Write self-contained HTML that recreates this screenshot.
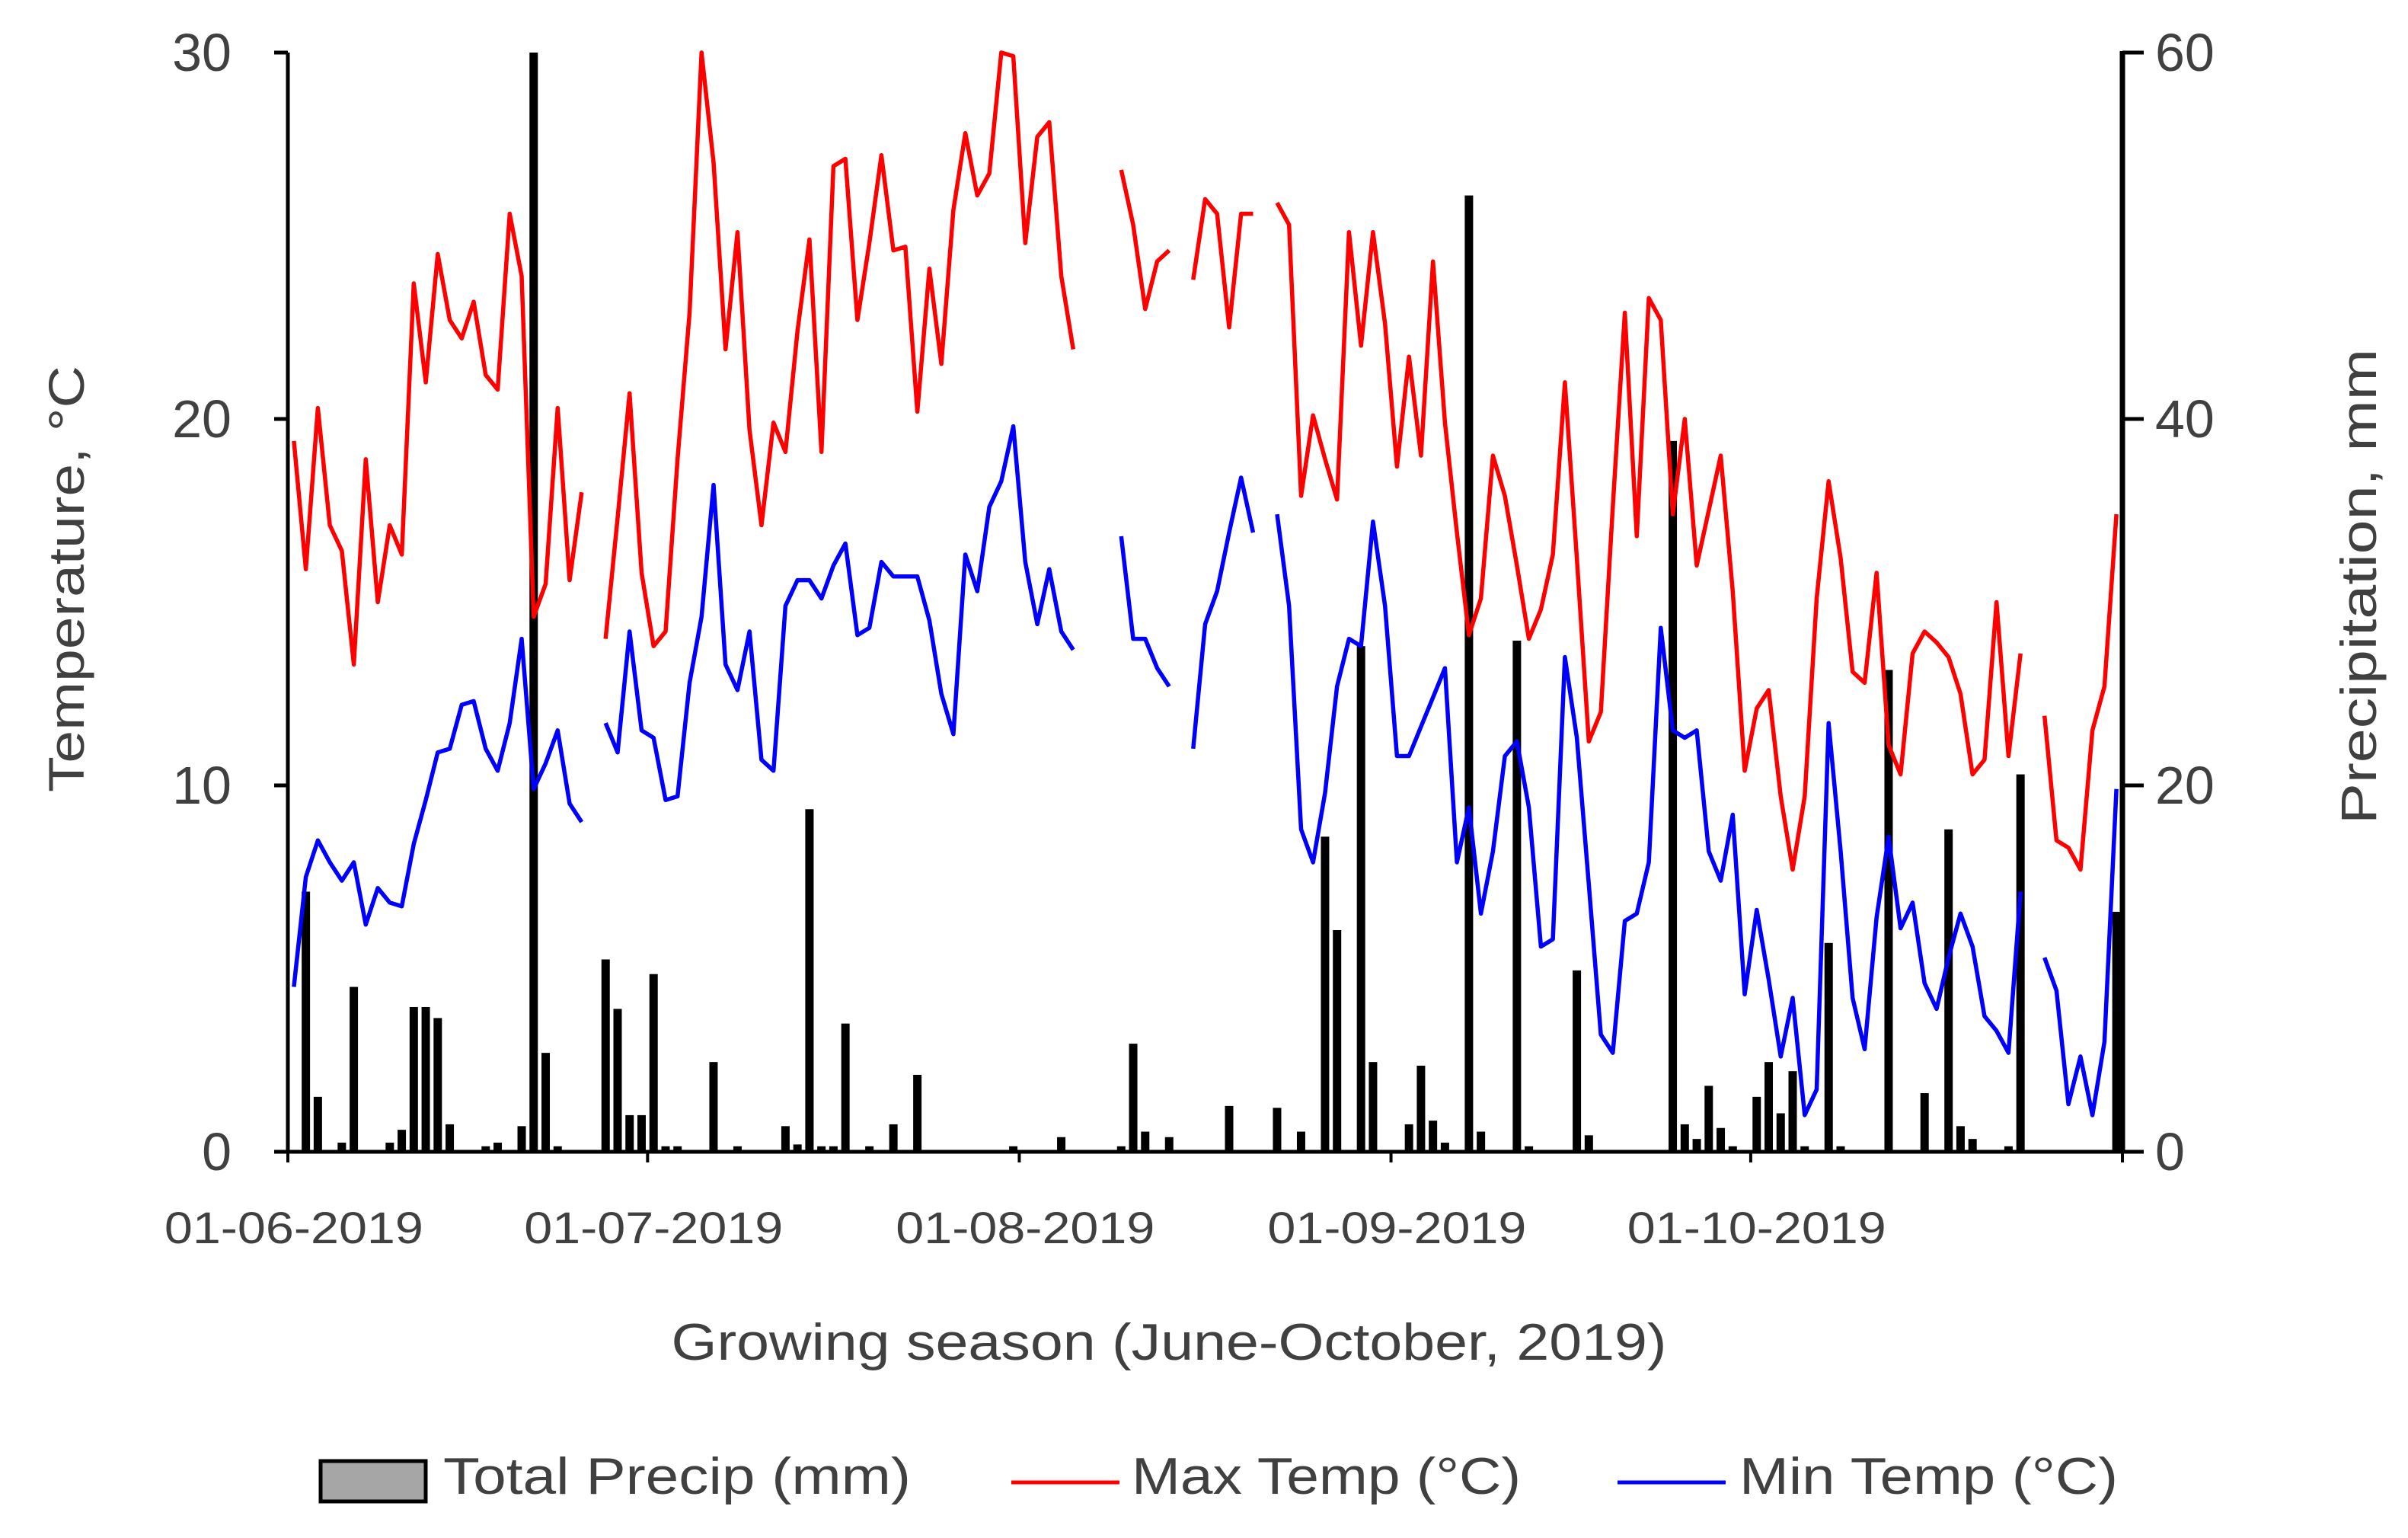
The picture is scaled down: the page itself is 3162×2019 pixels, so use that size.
<!DOCTYPE html>
<html><head><meta charset="utf-8"><style>
html,body{margin:0;padding:0;background:#fff;}
svg{display:block;font-family:"Liberation Sans",sans-serif;}
</style></head><body>
<svg id="chart" width="3162" height="2019" viewBox="0 0 3162 2019">
<g id="bars"></g>
<g id="lines"></g>
<g id="axes"></g>
<text x="0" y="0" transform="translate(110,760) rotate(-90)" text-anchor="middle" font-size="66" fill="#404040" textLength="560" lengthAdjust="spacingAndGlyphs">Temperature, °C</text>
<text x="0" y="0" transform="translate(3120,770) rotate(-90)" text-anchor="middle" font-size="66" fill="#404040" textLength="624" lengthAdjust="spacingAndGlyphs">Precipitation, mm</text>
<text x="1535" y="1785" text-anchor="middle" font-size="68" fill="#404040" textLength="1307" lengthAdjust="spacingAndGlyphs">Growing season (June-October, 2019)</text>
<g>
<rect x="421" y="1918" width="138" height="53" fill="#a6a6a6" stroke="#000" stroke-width="5"/>
<text x="582" y="1961" font-size="68" fill="#404040" textLength="614" lengthAdjust="spacingAndGlyphs">Total Precip (mm)</text>
<line x1="1328" y1="1946" x2="1470" y2="1946" stroke="#ff0000" stroke-width="5"/>
<text x="1486" y="1961" font-size="68" fill="#404040" textLength="511" lengthAdjust="spacingAndGlyphs">Max Temp (°C)</text>
<line x1="2124" y1="1946" x2="2266" y2="1946" stroke="#0000ff" stroke-width="5"/>
<text x="2284" y="1961" font-size="68" fill="#404040" textLength="497" lengthAdjust="spacingAndGlyphs">Min Temp (°C)</text>
</g>
</svg>
<script>
const maxTemp=[19.4,15.9,20.3,17.1,16.4,13.3,18.9,15.0,17.1,16.3,
23.7,21.0,24.5,22.7,22.2,23.2,21.2,20.8,25.6,23.9,
14.6,15.5,20.3,15.6,18.0,null,14.0,17.3,20.7,15.8,
13.8,14.2,18.9,22.9,30.0,27.0,21.9,25.1,19.7,17.1,
19.9,19.1,22.4,24.9,19.1,26.9,27.1,22.7,24.8,27.2,
24.6,24.7,20.2,24.1,21.5,25.7,27.8,26.1,26.7,30.0,
29.9,24.8,27.7,28.1,23.9,21.9,null,null,null,26.8,
25.3,23.0,24.3,24.6,null,23.8,26.0,25.6,22.5,25.6,
25.6,null,25.9,25.3,17.9,20.1,18.9,17.8,25.1,22.0,
25.1,22.6,18.7,21.7,19.0,24.3,19.9,16.9,14.1,15.1,
19.0,17.9,16.0,14.0,14.8,16.3,21.0,16.2,11.2,12.0,
17.6,22.9,16.8,23.3,22.7,17.4,20.0,16.0,17.5,19.0,
15.3,10.4,12.1,12.6,9.7,7.7,9.7,15.1,18.3,16.2,
13.1,12.8,15.8,11.1,10.3,13.6,14.2,13.9,13.5,12.5,
10.3,10.7,15.0,10.8,13.6,null,11.9,8.5,8.3,7.7,
11.5,12.7,17.4];
const minTemp=[4.5,7.5,8.5,7.9,7.4,7.9,6.2,7.2,6.8,6.7,
8.4,9.6,10.9,11.0,12.2,12.3,11.0,10.4,11.7,14.0,
9.9,10.6,11.5,9.5,9.0,null,11.7,10.9,14.2,11.5,
11.3,9.6,9.7,12.8,14.6,18.2,13.3,12.6,14.2,10.7,
10.4,14.9,15.6,15.6,15.1,16.0,16.6,14.1,14.3,16.1,
15.7,15.7,15.7,14.5,12.5,11.4,16.3,15.3,17.6,18.3,
19.8,16.1,14.4,15.9,14.2,13.7,null,null,null,16.8,
14.0,14.0,13.2,12.7,null,11.0,14.4,15.3,16.9,18.4,
16.9,null,17.4,14.9,8.8,7.9,9.8,12.7,14.0,13.8,
17.2,14.9,10.8,10.8,11.6,12.4,13.2,7.9,9.4,6.5,
8.2,10.8,11.2,9.4,5.6,5.8,13.5,11.3,7.3,3.2,
2.7,6.3,6.5,7.9,14.3,11.5,11.3,11.5,8.2,7.4,
9.2,4.3,6.6,4.7,2.6,4.2,1.0,1.7,11.7,8.2,
4.2,2.8,6.4,8.6,6.1,6.8,4.6,3.9,5.3,6.5,
5.6,3.7,3.3,2.7,7.1,null,5.3,4.4,1.3,2.6,
1.0,3.0,9.9];
const precip=[0,14.2,3.0,0,0.5,9.0,0,0,0.5,1.2,
7.9,7.9,7.3,1.5,0,0,0.3,0.5,0,1.4,
60,5.4,0.3,0,0,0,10.5,7.8,2.0,2.0,
9.7,0.3,0.3,0,0,4.9,0,0.3,0,0,
0,1.4,0.4,18.7,0.3,0.3,7.0,0,0.3,0,
1.5,0,4.2,0,0,0,0,0,0,0,
0.3,0,0,0,0.8,0,0,0,0,0.3,
5.9,1.1,0,0.8,0,0,0,0,2.5,0,
0,0,2.4,0,1.1,0,17.2,12.1,0,27.6,
4.9,0,0,1.5,4.7,1.7,0.5,0,52.2,1.1,
0,0,27.9,0.3,0,0,0,9.9,0.9,0,
0,0,0,0,0,38.8,1.5,0.7,3.6,1.3,
0.3,0,3.0,4.9,2.1,4.4,0.3,0,11.4,0.3,
0,0,0,26.3,0,0,3.2,0,17.6,1.4,
0.7,0,0,0.3,20.6,0,0,0,0,0,
0,0,13.1];
const dateLabels=["01-06-2019","01-07-2019","01-08-2019","01-09-2019","01-10-2019"];
const dateTickDays=[0,30,61,92,122];
const leftTicks=[0,10,20,30];
const rightTicks=[0,20,40,60];

const NS="http://www.w3.org/2000/svg";
const X0=378,X1=2787,Y0=1512,Y1=69,N=153;
const step=(X1-X0)/N;
function xC(d){return X0+(d+0.5)*step;}
function xB(d){return X0+d*step;}
function yT(t){return Y0-(t/30)*(Y0-Y1);}
function yP(p){return Y0-(p/60)*(Y0-Y1);}
function mk(tag,attrs,parent){const e=document.createElementNS(NS,tag);for(const k in attrs)e.setAttribute(k,attrs[k]);parent.appendChild(e);return e;}

const gb=document.getElementById('bars');
precip.forEach((p,i)=>{
  if(p<=0)return;
  const r=mk('rect',{x:xC(i)-5.5,y:yP(p),width:11,height:Y0-yP(p),fill:'#000'},gb);
  
  
});

const gl=document.getElementById('lines');
function drawSeries(arr,color,name){
  let d="",pen=false;
  arr.forEach((v,i)=>{
    if(v===null){pen=false;return;}
    d+=(pen?"L":"M")+xC(i).toFixed(1)+" "+yT(v).toFixed(1)+" ";
    pen=true;
  });
  const p=mk('path',{d:d,fill:'none',stroke:color,'stroke-width':5.5,'stroke-linejoin':'round'},gl);
  
  
}
drawSeries(maxTemp,'#ff0000','max-temp-line');
drawSeries(minTemp,'#0000ff','min-temp-line');

const ga=document.getElementById('axes');
let a;
a=mk('line',{x1:X0,y1:Y1,x2:X0,y2:Y0+2,stroke:'#000','stroke-width':5},ga);


a=mk('line',{x1:X1,y1:Y1-2,x2:X1,y2:Y0+2,stroke:'#000','stroke-width':7},ga);


a=mk('line',{x1:X0,y1:Y0,x2:X1,y2:Y0,stroke:'#000','stroke-width':5},ga);


leftTicks.forEach(t=>{
  const l=mk('line',{x1:X0-18,y1:yT(t),x2:X0,y2:yT(t),stroke:'#000','stroke-width':5},ga);
  
  
  const tx=mk('text',{x:304,y:yT(t)+24,'text-anchor':'end','font-size':70,fill:'#404040'},ga);
  tx.textContent=t;
  
  
});
rightTicks.forEach(t=>{
  const l=mk('line',{x1:X1,y1:yP(t),x2:X1+28,y2:yP(t),stroke:'#000','stroke-width':5},ga);
  
  
  const tx=mk('text',{x:2830,y:yP(t)+24,'text-anchor':'start','font-size':70,fill:'#404040'},ga);
  tx.textContent=t;
  
  
});
dateTickDays.forEach((d,i)=>{
  const l=mk('line',{x1:xB(d),y1:Y0,x2:xB(d),y2:Y0+14,stroke:'#000','stroke-width':4},ga);
  
  
  const tx=mk('text',{x:xC(d),y:1632,'text-anchor':'middle','font-size':58,fill:'#404040',textLength:340,lengthAdjust:'spacingAndGlyphs'},ga);
  tx.textContent=dateLabels[i];
  
  
});
const lt=mk('line',{x1:X1,y1:Y0,x2:X1,y2:Y0+14,stroke:'#000','stroke-width':4},ga);


</script>
</body></html>
